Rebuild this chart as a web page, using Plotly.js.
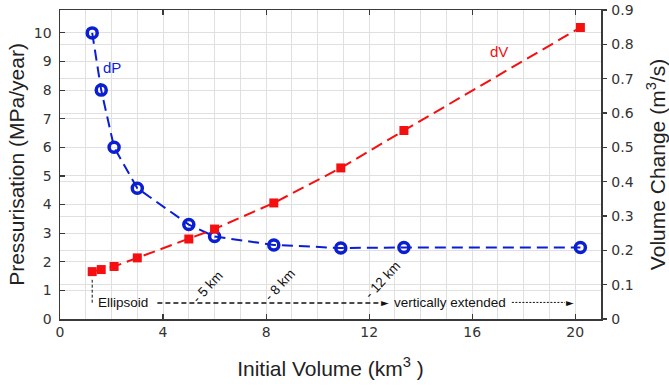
<!DOCTYPE html>
<html>
<head>
<meta charset="utf-8">
<script src="https://cdn.plot.ly/plotly-3.0.1.min.js"></script>
<style>html,body{margin:0;padding:0;background:#fff;}#chart{width:669px;height:391px;}</style>
</head>
<body>
<div id="chart"></div>
<script>
// Data
const initialVolume = [1.25, 1.6, 2.1, 3.0, 5.0, 6.0, 8.3, 10.9, 13.35, 20.2];
const dP = [10.0, 8.0, 6.0, 4.57, 3.3, 2.88, 2.59, 2.48, 2.5, 2.5];
const dV = [0.138, 0.144, 0.153, 0.178, 0.233, 0.262, 0.338, 0.44, 0.549, 0.849];
const xTickVals = [0, 4, 8, 12, 16, 20];
const yLeftTicks = [0, 1, 2, 3, 4, 5, 6, 7, 8, 9, 10];
const yRightTicks = [0, 0.1, 0.2, 0.3, 0.4, 0.5, 0.6, 0.7, 0.8, 0.9];
const depthLabels = ["- 5 km", "- 8 km", "- 12 km"];
const shapeLabels = ["Ellipsoid", "vertically extended"];

const BLUE = '#0a1ed2';
const RED = '#f41010';
const GRID = '#e0e0e0';
const AX = '#3a3a3a';
const tickFont = {family: 'DejaVu Sans, sans-serif', size: 14, color: '#333'};
const titleFont = {family: 'Liberation Sans, Arial, sans-serif', size: 21, color: '#222'};
const annFont = {family: 'Liberation Sans, Arial, sans-serif', size: 13.5, color: '#111'};

const traces = [
  {
    x: initialVolume, y: dP, type: 'scatter', mode: 'lines+markers', yaxis: 'y',
    line: {color: BLUE, width: 2, dash: '11px,6px'},
    marker: {symbol: 'circle-open', size: 10, color: BLUE, line: {color: BLUE, width: 3.5}},
    hoverinfo: 'skip', showlegend: false
  },
  {
    x: initialVolume, y: dV, type: 'scatter', mode: 'lines+markers', yaxis: 'y2',
    line: {color: RED, width: 2, dash: '12px,6px'},
    marker: {symbol: 'square', size: 9, color: RED},
    hoverinfo: 'skip', showlegend: false
  }
];

const annotations = [
  {x: 2.0, y: 8.79, xref: 'x', yref: 'y', text: 'dP', showarrow: false, font: {family: titleFont.family, size: 15, color: BLUE}},
  {x: 17.03, y: 0.78, xref: 'x', yref: 'y2', text: 'dV', showarrow: false, font: {family: titleFont.family, size: 15, color: RED}},
  {x: 2.45, y: 0.56, xref: 'x', yref: 'y', text: shapeLabels[0], showarrow: false, font: annFont},
  {x: 15.15, y: 0.58, xref: 'x', yref: 'y', text: shapeLabels[1], showarrow: false, font: annFont},
  {x: 5.75, y: 1.12, xref: 'x', yref: 'y', text: depthLabels[0], showarrow: false, textangle: -47, font: annFont},
  {x: 8.55, y: 1.2, xref: 'x', yref: 'y', text: depthLabels[1], showarrow: false, textangle: -47, font: annFont},
  {x: 12.5, y: 1.36, xref: 'x', yref: 'y', text: depthLabels[2], showarrow: false, textangle: -47, font: annFont},
  // arrow heads
  {x: 12.62, y: 0.56, xref: 'x', yref: 'y', text: '►', showarrow: false, font: {family: 'DejaVu Sans, sans-serif', size: 10, color: '#111'}},
  {x: 19.78, y: 0.58, xref: 'x', yref: 'y', text: '►', showarrow: false, font: {family: 'DejaVu Sans, sans-serif', size: 10, color: '#111'}}
];

const shapes = [
  {type: 'line', xref: 'x', yref: 'y', x0: 1.25, x1: 1.25, y0: 0.57, y1: 1.37, line: {color: '#111', width: 1, dash: '3px,2px'}},
  {type: 'line', xref: 'x', yref: 'y', x0: 3.78, x1: 12.45, y0: 0.56, y1: 0.56, line: {color: '#111', width: 1.6, dash: '5px,3px'}},
  {type: 'line', xref: 'x', yref: 'y', x0: 17.54, x1: 19.6, y0: 0.58, y1: 0.58, line: {color: '#111', width: 1, dash: '2px,1.5px'}}
];

const layout = {
  width: 669, height: 391,
  margin: {l: 60, r: 68, t: 10, b: 72, pad: 0},
  paper_bgcolor: '#fff', plot_bgcolor: '#fff',
  showlegend: false,
  xaxis: {
    range: [0, 21], tickvals: xTickVals, ticktext: xTickVals.map(String),
    showgrid: true, gridcolor: GRID, gridwidth: 1,
    minor: {dtick: 1, tick0: 0, showgrid: true, gridcolor: GRID, gridwidth: 1, ticks: ''},
    zeroline: false, showline: true, linecolor: AX, linewidth: 1.5, mirror: 'ticks',
    ticks: 'inside', ticklen: 5, tickcolor: AX, tickwidth: 1.2,
    tickfont: tickFont,
    title: {text: 'Initial Volume (km<sup>3</sup> )', font: titleFont, standoff: 22}
  },
  yaxis: {
    range: [0, 10.8], tickvals: yLeftTicks, ticktext: yLeftTicks.map(String),
    showgrid: true, gridcolor: GRID, gridwidth: 1,
    zeroline: false, showline: true, linecolor: AX, linewidth: 1.5,
    ticks: 'inside', ticklen: 5, tickcolor: AX, tickwidth: 1.2,
    tickfont: tickFont, ticklabelstandoff: 4,
    title: {text: 'Pressurisation (MPa/year)', font: titleFont, standoff: 3}
  },
  yaxis2: {
    overlaying: 'y', side: 'right',
    range: [0, 0.9], tickvals: yRightTicks, ticktext: yRightTicks.map(String),
    showgrid: true, gridcolor: GRID, gridwidth: 1,
    zeroline: false, showline: true, linecolor: AX, linewidth: 1.5,
    ticks: 'outside', ticklen: 4, tickcolor: AX, tickwidth: 1.2,
    tickfont: tickFont, ticklabelstandoff: 2,
    title: {text: 'Volume Change (m<sup>3</sup>/s)', font: titleFont, standoff: 17}
  },
  annotations: annotations,
  shapes: shapes
};

Plotly.newPlot('chart', traces, layout, {staticPlot: true, displayModeBar: false});
</script>
</body>
</html>
